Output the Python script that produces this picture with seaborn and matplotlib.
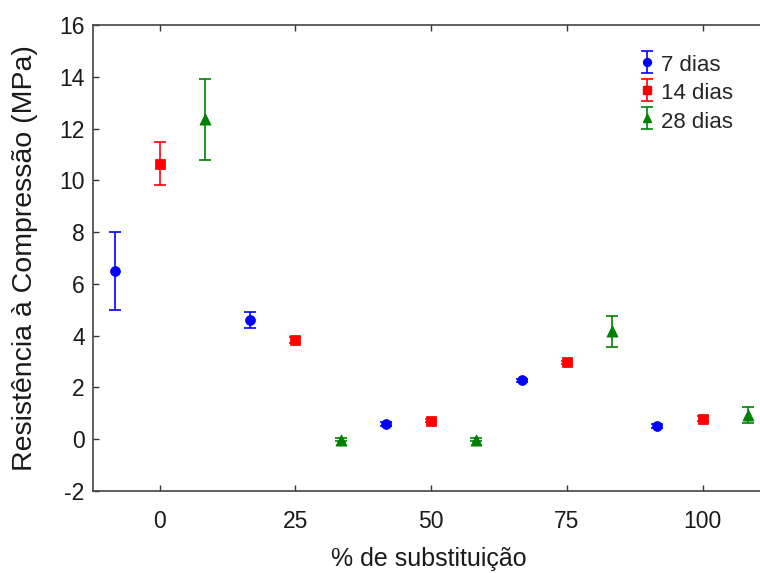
import numpy as np
import pandas as pd
import matplotlib
matplotlib.use("Agg")
import matplotlib.pyplot as plt
import seaborn as sns

# Data
substituicao = [0, 25, 50, 75, 100]
series_names = ["7 dias", "14 dias", "28 dias"]
media_7 = [6.5, 4.6, 0.6, 2.28, 0.51]
erro_7 = [1.5, 0.3, 0.08, 0.06, 0.06]
media_14 = [10.64, 3.83, 0.72, 2.98, 0.8]
erro_14 = [0.83, 0.12, 0.06, 0.06, 0.08]
media_28 = [12.35, -0.02, -0.02, 4.17, 0.93]
erro_28 = [1.55, 0.06, 0.06, 0.6, 0.3]

medias = [media_7, media_14, media_28]
erros = [erro_7, erro_14, erro_28]
colors = ["#0000ff", "#ff0000", "#008000"]
markers = ["o", "s", "^"]
msizes = [7.5, 8, 8.5]
offsets = [-25 / 3, 0, 25 / 3]

rows = []
for name, m, e, off in zip(series_names, medias, erros, offsets):
    for p, v, er in zip(substituicao, m, e):
        rows.append({"pct": p, "x": p + off, "y": v, "err": er, "serie": name})
df = pd.DataFrame(rows)

sns.set_theme(style="ticks")
plt.rcParams["font.family"] = ["Liberation Sans", "DejaVu Sans"]
plt.rcParams["axes.unicode_minus"] = False

fig = plt.figure(figsize=(7.6, 5.73), dpi=100)
ax = fig.add_axes([93 / 760, 1 - 491 / 573, 672 / 760, (491 - 25) / 573])

for name, c, mk, ms in zip(series_names, colors, markers, msizes):
    d = df[df["serie"] == name]
    ax.errorbar(d["x"], d["y"], yerr=d["err"], fmt=mk, color=c, ecolor=c,
                markersize=ms * 0.75, capsize=4.5, elinewidth=1.2, capthick=1.2,
                label=name, zorder=2)
    sns.scatterplot(data=d, x="x", y="y", marker=mk, color=c, s=ms ** 2 * 0.9,
                    edgecolor=c, linewidth=0.5, ax=ax, legend=False, zorder=3)

ax.set_xlim(-12.3, 111.5)
ax.set_ylim(-2, 16)
ax.set_xticks(substituicao)
ax.set_xticklabels([str(v) for v in substituicao])
ax.set_yticks(np.arange(-2, 17, 2))
ax.tick_params(direction="in", length=4, width=1, labelsize=16.5,
               top=True, right=False, colors="#333333", labelcolor="#1a1a1a")
ax.tick_params(axis="y", pad=6)
ax.tick_params(axis="x", pad=14)
for s in ["left", "bottom", "top"]:
    ax.spines[s].set_color("#444444")
    ax.spines[s].set_linewidth(1.2)
ax.spines["right"].set_visible(False)

ax.set_xlabel("% de substituição", fontsize=18, labelpad=10, color="#1a1a1a")
ax.set_ylabel("Resistência à Compressão (MPa)", fontsize=20.5, color="#1a1a1a")
ax.yaxis.set_label_coords((38 - 93) / 672, 0.5)

leg = ax.legend(loc="upper right", bbox_to_anchor=(0.975, 0.975), frameon=False,
                fontsize=16, handlelength=0.9, handleheight=1.2, handletextpad=0.15,
                labelspacing=0.2, borderpad=0.2)

fig.savefig("out.png", dpi=100)
